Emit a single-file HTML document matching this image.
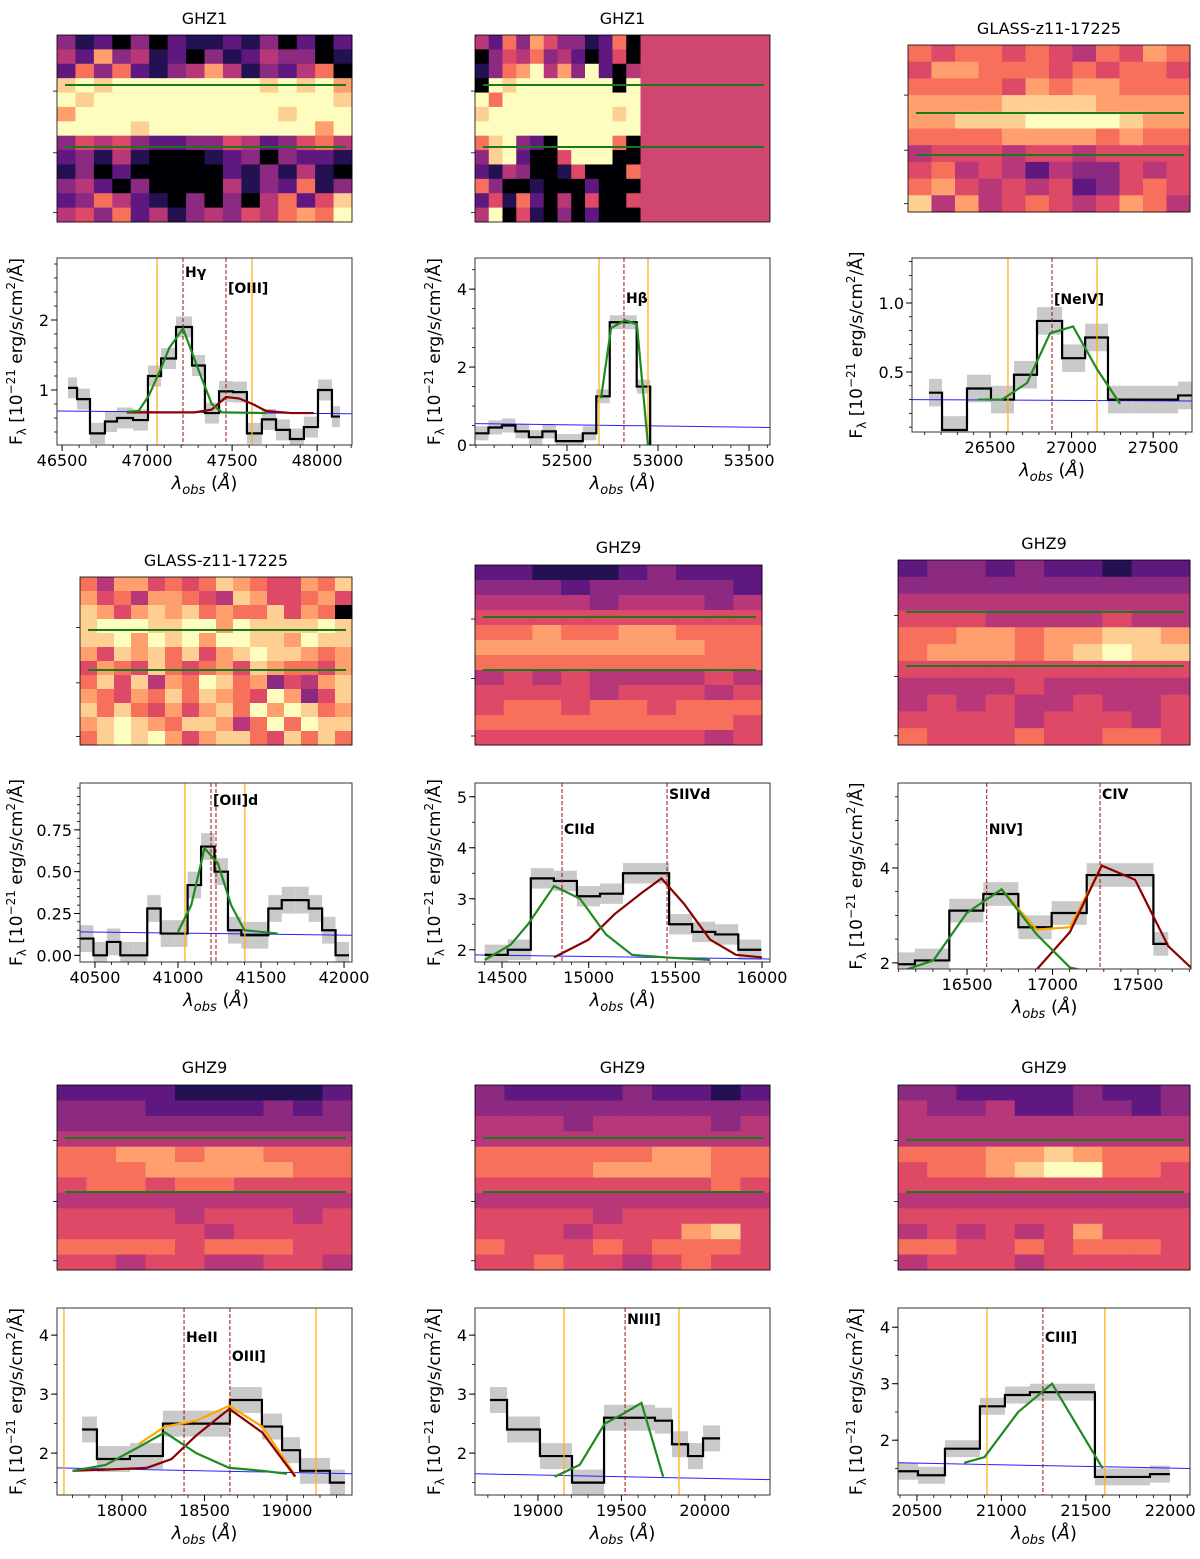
<!DOCTYPE html>
<html><head><meta charset="utf-8"><style>
body{margin:0;background:#fff}
svg{display:block;font-family:"DejaVu Sans","Liberation Sans",sans-serif}
</style></head><body>
<svg id="fig" width="1200" height="1559" viewBox="0 0 1200 1559" xmlns="http://www.w3.org/2000/svg"></svg>
<script>
// ---------- data ----------
const p1Edges=[46535,46588,46664,46752,46823,46917,47005,47082,47170,47264,47340,47423,47505,47587,47675,47758,47840,47922,48005,48087,48134];
const p1Vals=[1.03,0.87,0.38,0.55,0.6,0.57,1.2,1.45,1.9,1.35,0.67,0.98,0.97,0.38,0.58,0.43,0.3,0.47,1.0,0.62];
const p1Green=[[46880,0.69],[46950,0.7],[47010,0.92],[47080,1.3],[47130,1.6],[47211,1.88],[47300,1.3],[47380,0.8],[47440,0.68],[47700,0.67]];
const p1Red=[[46880,0.68],[47280,0.68],[47380,0.72],[47464,0.9],[47540,0.88],[47620,0.8],[47700,0.7],[47850,0.67],[47980,0.67]];

const p2Edges=[51995,52069,52143,52217,52291,52365,52439,52513,52587,52661,52735,52809,52883,52957];
const p2Vals=[0.3,0.45,0.5,0.35,0.2,0.35,0.1,0.1,0.3,1.25,3.15,3.15,1.5];
const p2Green=[[52687,1.2],[52742,3.0],[52819,3.2],[52884,3.1],[52945,0]];

const p3Edges=[26126,26206,26359,26506,26647,26788,26942,27083,27223,27371,27653,27738];
const p3Vals=[0.35,0.08,0.38,0.3,0.48,0.87,0.6,0.75,0.3,0.3,0.33];
const p3Green=[[26427,0.3],[26574,0.3],[26727,0.42],[26868,0.78],[27009,0.83],[27156,0.52],[27297,0.27]];

const p4Edges=[40410,40491,40572,40653,40734,40815,40896,40977,41058,41139,41220,41301,41382,41463,41544,41625,41706,41787,41868,41949,42030];
const p4Vals=[0.1,0,0.08,0,0,0.28,0.13,0.13,0.42,0.65,0.5,0.15,0.12,0.12,0.28,0.33,0.33,0.28,0.15,0];
const p4Green=[[41000,0.14],[41080,0.3],[41160,0.64],[41240,0.55],[41320,0.3],[41400,0.15],[41600,0.13]];

const p5Edges=[14400,14533,14666,14799,14932,15065,15198,15331,15464,15597,15730,15863,15996];
const p5Vals=[1.9,2.0,3.4,3.35,3.05,3.1,3.5,3.5,2.5,2.35,2.3,2.0];
const p5Green=[[14400,1.8],[14550,2.1],[14650,2.5],[14800,3.25],[14950,3.0],[15100,2.3],[15250,1.9],[15450,1.85],[15700,1.8]];
const p5Red=[[14800,1.85],[15000,2.2],[15150,2.7],[15300,3.1],[15420,3.4],[15550,2.9],[15700,2.2],[15850,1.9],[16000,1.85]];

const p6Edges=[16096,16195,16396,16595,16800,16995,17200,17590,17677];
const p6Vals=[1.97,2.05,3.1,3.45,2.75,3.05,3.85,2.4];
const p6Green=[[16096,1.8],[16303,2.05],[16498,3.05],[16702,3.55],[16907,2.6],[17102,1.9],[17229,1.8]];
const p6Red=[[16733,1.8],[16905,1.85],[17102,2.65],[17288,4.05],[17483,3.75],[17677,2.35],[17810,1.9]];
const p6Orange=[[16702,3.55],[16907,2.7],[17102,2.75],[17288,4.05]];

const p7Edges=[17758,17848,18048,18248,18454,18654,18848,18970,19079,19260,19351];
const p7Vals=[2.4,1.9,1.95,2.5,2.5,2.9,2.45,2.05,1.7,1.5];
const p7Green=[[17700,1.7],[17900,1.8],[18100,2.1],[18260,2.35],[18450,2.0],[18650,1.75],[18850,1.7],[19000,1.65]];
const p7Red=[[17700,1.7],[17900,1.72],[18150,1.75],[18300,1.9],[18450,2.3],[18650,2.75],[18850,2.35],[19050,1.6]];
const p7Orange=[[18100,2.15],[18260,2.45],[18450,2.55],[18650,2.8],[18850,2.45],[19050,1.62]];

const p8Edges=[18713,18815,19012,19204,19396,19701,19803,19899,19989,20091];
const p8Vals=[2.9,2.4,1.95,1.5,2.6,2.55,2.15,1.95,2.25];
const p8Green=[[19100,1.6],[19250,1.8],[19400,2.5],[19500,2.65],[19620,2.85],[19750,1.6]];

const p9Edges=[20388,20506,20666,20873,21021,21169,21554,21880,21998];
const p9Vals=[1.45,1.38,1.85,2.6,2.8,2.85,1.35,1.4];
const p9Green=[[20780,1.6],[20900,1.7],[21100,2.5],[21300,3.0],[21600,1.5]];

const img1=["3120302112130202","4273412031243301","2636213474132460","8989999999989897","9899999999999998","7999999999998999","9999899999999979","3545322335423564","2314100012303221","1302000002131410","3420300004132613","2364210303046258","4536241343546769"];
const img2=["426375331260","035463420250","136794739204","098999999909","969999999999","899999999989","999999999999","689320999960","389200599900","214300150006","630010002000","251620405005","490510302000"];
const img3=["656656546576","577666565665","666657677666","777788887777","778889999877","666677776766","455545545555","564542433545","675454523565","847456545764"];
const img4=["6477565687655768","7564776548755675","8757878676685760","8999889979888898","8897989799887988","7587868578988767","5765865675876657","6858476986735478","7657686876597358","8686575786979867","7898768874696988","6898975788658686"];
const img5=["2211123222","3332333332","4444344434","5555555555","6676677666","7777777766","6666666666","4545444454","5555455545","5665665666","6666666665","5555555545"];
const img6=["2332322122","3333333333","4444444444","5554444544","6677677887","6777678988","5555555555","4444544444","4545445445","5555455545","6555655665"];
const img7=["2222111112","3332222323","3333333333","4444444444","6677677666","6667777766","5665665555","4444444444","5555455545","5555545555","6666566655","5545544554"];
const img8=["3222232212","3333333333","4443444434","4444444444","6666667766","6666777766","5555555565","4444444444","5555455555","5554555785","6555656665","5565545655"];
const img9=["3322223223","4334223323","4444444444","4444444444","6667787666","5667899665","5555555555","4444444444","5555555555","4545457555","6655656665","4555455555"];

// ---------- helpers ----------
const NS="http://www.w3.org/2000/svg";
const svg=document.getElementById('fig');
const cmap=['#000004','#231151','#5f187f','#8c2981','#b73779','#de4968','#f7705c','#fe9f6d','#fecf92','#fcfdbf'];
function mk(tag,attrs,parent){const e=document.createElementNS(NS,tag);for(const k in attrs)e.setAttribute(k,attrs[k]);(parent||svg).appendChild(e);return e;}

function drawImage(grid,box,greens,title,tY,name,rightPink){
  const g=mk('g',{});
  
  
  const [l,t,r,b]=box;
  const rows=grid.length, cols=grid[0].length;
  const cw=(r-l)/cols, ch=(b-t)/rows;
  if(rightPink){const pr=mk('rect',{x:rightPink[0],y:t,width:rightPink[1]-rightPink[0],height:b-t,fill:'#cf4770'},g);
    }
  for(let i=0;i<rows;i++)for(let j=0;j<cols;j++){
    const c=mk('rect',{x:l+j*cw,y:t+i*ch,width:cw+0.5,height:ch+0.5,fill:cmap[+grid[i][j]]},g);
    
    
  }
  const R=rightPink?rightPink[1]:r;
  greens.forEach(y=>{const ln=mk('line',{x1:l+8,x2:R-6,y1:y,y2:y,stroke:'#1a7a1a','stroke-width':2},g);
    });
  mk('rect',{x:l,y:t,width:R-l,height:b-t,fill:'none',stroke:'#000','stroke-width':0.8},g);
  [t+(b-t)*0.3,t+(b-t)*0.63,t+(b-t)*0.95].forEach(y=>mk('line',{x1:l-4,x2:l,y1:y,y2:y,stroke:'#000','stroke-width':0.8},g));
  const tt=mk('text',{x:(l+R)/2,y:tY,'text-anchor':'middle','font-size':16,fill:'#000'},g);
  tt.textContent=title;
  
  
}

function drawPanel(c){
  const g=mk('g',{});
  
  
  const [l,t,r,b]=c.box;
  const X=v=>l+(v-c.xr[0])/(c.xr[1]-c.xr[0])*(r-l);
  const Y=v=>b-(v-c.yr[0])/(c.yr[1]-c.yr[0])*(b-t);
  const clipId='clip'+c.name;
  const cp=mk('clipPath',{id:clipId},g);mk('rect',{x:l,y:t,width:r-l,height:b-t},cp);
  const inner=mk('g',{'clip-path':'url(#'+clipId+')'},g);
  for(let i=0;i<c.vals.length;i++){
    const e=mk('rect',{x:X(c.edges[i]),y:Y(c.vals[i]+c.err),width:X(c.edges[i+1])-X(c.edges[i]),height:Y(c.vals[i]-c.err)-Y(c.vals[i]+c.err),fill:'#c9c9c9'},inner);
    
    
  }
  const bl=mk('line',{x1:X(c.blueX[0]),x2:X(c.blueX[1]),y1:Y(c.blue[0]),y2:Y(c.blue[1]),stroke:'#2222ff','stroke-width':1},inner);
  
  
  let d='';
  for(let i=0;i<c.vals.length;i++){
    d+=(i?'L':'M')+X(c.edges[i])+','+Y(c.vals[i])+'L'+X(c.edges[i+1])+','+Y(c.vals[i]);
  }
  if(c.dropTo!==undefined)d+='L'+X(c.edges[c.edges.length-1])+','+Y(c.dropTo);
  const st=mk('path',{d:d,fill:'none',stroke:'#000','stroke-width':2.2},inner);
  
  
  (c.vo||[]).forEach(v=>{const ln=mk('line',{x1:X(v),x2:X(v),y1:t,y2:b,stroke:'#ffb020','stroke-width':1.3},inner);
    });
  (c.vd||[]).forEach(v=>{const ln=mk('line',{x1:X(v),x2:X(v),y1:t,y2:b,stroke:'#a01010','stroke-width':1,'stroke-dasharray':'4,2'},inner);
    });
  const line=(pts,col,nm)=>{if(!pts)return;const p=mk('polyline',{points:pts.map(q=>X(q[0])+','+Y(q[1])).join(' '),fill:'none',stroke:col,'stroke-width':2.2},inner);
    };
  line(c.orange,'#ffa500','total-model');
  line(c.red,'#8b0000','line-model-2');
  line(c.green,'#1f8a1f','line-model-1');
  (c.labels||[]).forEach(a=>{const tx=mk('text',{x:X(a[1])+2,y:a[2],'font-size':14,'font-weight':'bold',fill:'#000'},g);
    tx.textContent=a[0];});
  mk('rect',{x:l,y:t,width:r-l,height:b-t,fill:'none',stroke:'#333','stroke-width':1},g);
  for(let v=Math.ceil(c.xr[0]/c.xm)*c.xm;v<=c.xr[1];v+=c.xm){mk('line',{x1:X(v),x2:X(v),y1:b,y2:b+3,stroke:'#000','stroke-width':0.8},g);}
  c.xt.forEach(v=>{mk('line',{x1:X(v),x2:X(v),y1:b,y2:b+6,stroke:'#000','stroke-width':1},g);
    const tx=mk('text',{x:X(v),y:b+21,'text-anchor':'middle','font-size':16,fill:'#000'},g);tx.textContent=v;
    });
  for(let v=Math.ceil(c.yr[0]/c.ym-1e-9)*c.ym;v<=c.yr[1];v+=c.ym){mk('line',{x1:l-3,x2:l,y1:Y(v),y2:Y(v),stroke:'#000','stroke-width':0.8},g);}
  c.yt.forEach(v=>{mk('line',{x1:l-6,x2:l,y1:Y(v),y2:Y(v),stroke:'#000','stroke-width':1},g);
    const tx=mk('text',{x:l-8,y:Y(v)+6,'text-anchor':'end','font-size':16,fill:'#000'},g);tx.textContent=c.yfmt?v.toFixed(c.yfmt):v;
    });
  const xl=mk('text',{x:(l+r)/2,y:b+44,'text-anchor':'middle','font-size':18,fill:'#000'},g);
  xl.innerHTML='<tspan font-style="italic">λ</tspan><tspan font-style="italic" font-size="13" dy="5">obs</tspan><tspan dy="-5"> (</tspan><tspan font-style="italic">Å</tspan><tspan>)</tspan>';
  
  const yx=c.ylx, yy=(t+b)/2;
  const yl=mk('text',{x:yx,y:yy,'text-anchor':'middle','font-size':17,fill:'#000',transform:'rotate(-90 '+yx+' '+yy+')'},g);
  yl.innerHTML='F<tspan font-size="12" dy="4">λ</tspan><tspan dy="-4"> [10</tspan><tspan font-size="12" dy="-7">−21</tspan><tspan dy="7"> erg/s/cm</tspan><tspan font-size="12" dy="-7">2</tspan><tspan dy="7">/Å]</tspan>';
  
}

// ---------- images ----------
drawImage(img1,[57,35,352,222],[85,147],'GHZ1',24,'image-ghz1-hgamma');
drawImage(img2,[475,35,640,222],[85,147],'GHZ1',24,'image-ghz1-hbeta',[640,770]);
drawImage(img3,[908,45,1190,212],[113,155],'GLASS-z11-17225',34,'image-glass-neiv');
drawImage(img4,[80,577,352,745],[630,670],'GLASS-z11-17225',566,'image-glass-oii');
drawImage(img5,[475,565,762,745],[617,670],'GHZ9',553,'image-ghz9-civ-siiv');
drawImage(img6,[898,560,1190,745],[612,666],'GHZ9',549,'image-ghz9-niv-civ');
drawImage(img7,[57,1085,352,1270],[1138,1192],'GHZ9',1073,'image-ghz9-heii');
drawImage(img8,[475,1085,770,1270],[1138,1192],'GHZ9',1073,'image-ghz9-niii');
drawImage(img9,[898,1085,1190,1270],[1140,1192],'GHZ9',1073,'image-ghz9-ciii');

// ---------- spectra ----------
drawPanel({name:'spec-ghz1-hgamma',box:[57,258,352,445],xr:[46470,48205],yr:[0.214,2.886],xt:[46500,47000,47500,48000],xm:100,yt:[1,2],ym:0.2,
  edges:p1Edges,vals:p1Vals,err:0.15,green:p1Green,red:p1Red,blue:[0.7,0.66],blueX:[46470,48205],vo:[47058,47617],vd:[47211,47464],
  labels:[['Hγ',47211,277],['[OIII]',47464,293]],ylx:22});
drawPanel({name:'spec-ghz1-hbeta',box:[475,258,770,445],xr:[51995,53615],yr:[0,4.8],xt:[52500,53000,53500],xm:100,yt:[0,2,4],ym:0.5,
  edges:p2Edges,vals:p2Vals,err:0.18,green:p2Green,blue:[0.55,0.45],blueX:[51995,53615],vo:[52676,52945],vd:[52813],dropTo:0,
  labels:[['Hβ',52813,303]],ylx:440});
drawPanel({name:'spec-glass-neiv',box:[912,258,1192,432],xr:[26022,27738],yr:[0.065,1.326],xt:[26500,27000,27500],xm:100,yt:[0.5,1.0],ym:0.1,yfmt:1,
  edges:p3Edges,vals:p3Vals,err:0.1,green:p3Green,orange:[[27156,0.52],[27297,0.27]],blue:[0.3,0.29],blueX:[26022,27738],vo:[26610,27156],vd:[26880],
  labels:[['[NeIV]',26880,304]],ylx:862});
drawPanel({name:'spec-glass-oii',box:[80,783,352,962],xr:[40410,42048],yr:[-0.04,1.03],xt:[40500,41000,41500,42000],xm:100,yt:[0,0.25,0.5,0.75],ym:0.05,yfmt:2,
  edges:p4Edges,vals:p4Vals,err:0.08,green:p4Green,blue:[0.14,0.12],blueX:[40410,42048],vo:[41042,41403],vd:[41199,41229],
  labels:[['[OII]d',41199,805]],ylx:22});
drawPanel({name:'spec-ghz9-ciid-siivd',box:[475,783,770,962],xr:[14344,16046],yr:[1.76,5.27],xt:[14500,15000,15500,16000],xm:100,yt:[2,3,4,5],ym:0.5,
  edges:p5Edges,vals:p5Vals,err:0.2,green:p5Green,red:p5Red,blue:[1.9,1.82],blueX:[14344,16046],vd:[14846,15452],
  labels:[['CIId',14846,834],['SIIVd',15452,799]],ylx:440});
drawPanel({name:'spec-ghz9-niv-civ',box:[898,783,1191,969],xr:[16096,17810],yr:[1.87,5.79],xt:[16500,17000,17500],xm:100,yt:[2,4],ym:0.5,
  edges:p6Edges,vals:p6Vals,err:0.25,green:p6Green,red:p6Red,orange:p6Orange,blue:[1.8,1.78],blueX:[16096,17810],vd:[16615,17278],
  labels:[['NIV]',16615,834],['CIV',17278,799]],ylx:862});
drawPanel({name:'spec-ghz9-heii-oiii',box:[57,1308,352,1495],xr:[17606,19394],yr:[1.29,4.46],xt:[18000,18500,19000],xm:100,yt:[2,3,4],ym:0.5,
  edges:p7Edges,vals:p7Vals,err:0.22,green:p7Green,red:p7Red,orange:p7Orange,blue:[1.75,1.65],blueX:[17606,19394],vo:[17648,19176],vd:[18376,18654],
  labels:[['HeII',18376,1342],['OIII]',18654,1361]],ylx:22});
drawPanel({name:'spec-ghz9-niii',box:[475,1308,770,1495],xr:[18623,20390],yr:[1.29,4.46],xt:[19000,19500,20000],xm:100,yt:[2,3,4],ym:0.5,
  edges:p8Edges,vals:p8Vals,err:0.22,green:p8Green,blue:[1.65,1.55],blueX:[18623,20390],vo:[19156,19845],vd:[19522],
  labels:[['NIII]',19522,1324]],ylx:440});
drawPanel({name:'spec-ghz9-ciii',box:[898,1308,1190,1495],xr:[20388,22117],yr:[1.03,4.34],xt:[20500,21000,21500,22000],xm:100,yt:[2,3,4],ym:0.5,
  edges:p9Edges,vals:p9Vals,err:0.15,green:p9Green,blue:[1.6,1.5],blueX:[20388,22117],vo:[20915,21613],vd:[21246],
  labels:[['CIII]',21246,1342]],ylx:862});
</script>
</body></html>
